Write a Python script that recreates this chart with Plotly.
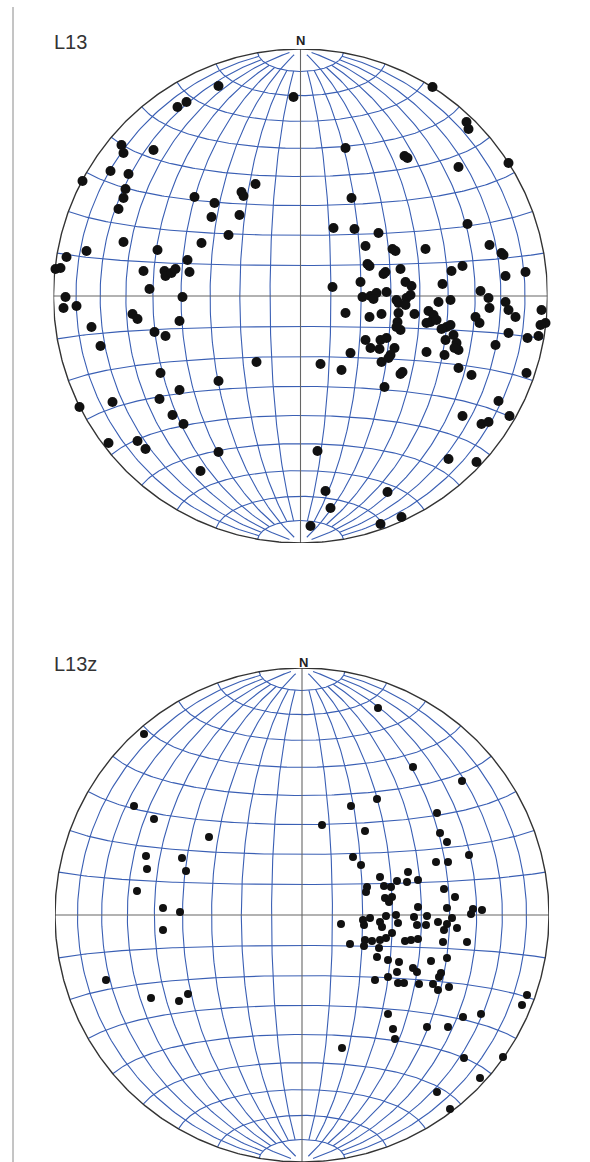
import numpy as np
import plotly.graph_objects as go

# ---- data: lineation poles, east / north offsets in net units (net radius = 247) ----
NET_R = 247.0

top_e = [-82, -114, -123, -7, -179, -177, -147, -218, -190, -172, -175, -177, -182, -106, -45, -59, -57,
         -86, -89, -61, -72, -99, -177, -214, -143, -234, -245, -240, -113, -157, -136, -135, -129, -125,
         -111, -151, -235, -118,
         -237, -224, -168, -163, -209, -121, -146, -135, -200, -44, -140, -82, -121, -141, -188, -221,
         -128, -117, -192, -163, -155, -82, -100,
         132, 166, 168, 45, 104, 107, 158, 208, 51, 33, 54, 78, 167, 65, 92, 95, 125, 189, 201, 203,
         69, 67, 85, 83, 100, 162, 151, 225, 205, 32, 60, 105, 111, 142, 180, 62, 70, 76, 86, 96, 106,
         110, 138, 150, 188,
         73, 98, 105, 128, 133, 130, 126, 136, 114, 98, 97, 100, 96, 45, 69, 81, 189, 205, 208, 215,
         175, 179, 241, 245, 240, 146, 150, 141, 145, 153, 156, 158, 154, 208, 227, 238, 195, 65, 70,
         79, 80, 86, 94, 90, 81, 88, 50, 126, 144, 20, 41, 102, 100, 158, 171, 226, 84, 198, 162, 209,
         181, 188, 17, 148, 176, 25, 87, 30, 101, 80, 10]
top_n = [210, 194, 189, 199, 151, 143, 146, 115, 125, 122, 107, 98, 87, 99, 112, 104, 100,
         93, 79, 81, 61, 53, 54, 45, 46, 39, 27, 28, 36, 25, 25, 20, 23, 27,
         24, 7, -1, -1,
         -12, -10, -18, -23, -31, -25, -36, -40, -50, -66, -77, -85, -94, -103, -106, -111,
         -119, -128, -147, -145, -153, -156, -175,
         209, 174, 167, 148, 140, 138, 129, 133, 98, 68, 67, 63, 72, 50, 47, 45, 47, 51, 43, 41,
         30, 32, 24, 22, 27, 30, 25, 24, 20, 9, 14, 14, 10, 12, 5, -1, 0, 3, 4, -4, -2,
         1, -6, -4, -2,
         -3, -7, -9, -15, -19, -26, -27, -24, -18, -17, -26, -34, -31, -17, -21, -18, -12, -6, -14, -21,
         -21, -27, -14, -27, -29, -31, -29, -33, -44, -39, -47, -54, -52, -37, -42, -40, -49, -44, -52,
         -53, -44, -42, -52, -59, -66, -62, -57, -56, -59, -68, -74, -76, -78, -72, -79, -77, -91, -105, -120, -120,
         -128, -126, -155, -163, -166, -195, -196, -212, -221, -228, -230]

bot_e = [-158, -168, -148, -93, -156, -155, -120, -116, -165, -139, -122, -139, -196, -151, -123, -114,
         76, 111, 160, 75, 49, 20, 135, 63, 138, 145, 167, 51, 59, 134, 146, 106, 78, 95, 105, 116,
         82, 89, 65, 64, 142, 83, 90, 87, 153, 116, 145, 171, 180, 169, 84, 94, 112, 125, 61, 68, 78,
         39, 150,
         62, 80, 96, 115, 124, 136, 142, 145, 155, 90, 48, 63, 70, 78, 84, 62, 77, 103, 109, 116, 141,
         165, 75, 86, 97, 129, 145, 111, 115, 95, 139, 137, 73, 86, 96, 102, 117, 131, 136, 147, 225,
         220, 86, 161, 179, 125, 146, 91, 93, 40, 162, 201, 178, 135, 148]
bot_n = [181, 109, 96, 78, 59, 46, 57, 44, 24, 7, 3, -15, -65, -83, -86, -79,
         207, 148, 134, 116, 109, 90, 102, 84, 82, 73, 60, 58, 50, 53, 53, 43, 38, 34, 33, 35,
         29, 28, 28, 23, 26, 17, 18, 13, 18, 8, 7, 6, 5, 1, -1, 0, -2, -1, -5, -3, -7,
         -9, -3,
         -10, -12, -8, -10, -10, -7, -15, -9, -13, -18, -29, -25, -26, -25, -23, -31, -33, -26, -25, -24, -27,
         -27, -42, -45, -47, -46, -43, -53, -57, -57, -58, -62, -65, -62, -68, -68, -69, -69, -75, -72, -80,
         -90, -99, -102, -99, -112, -112, -114, -124, -133, -143, -142, -163, -177, -194]

panel_labels = ["L13", "L13z"]
north_label = "N"
grid_step = 10  # degrees

# ---- net geometry (Schmidt / equal-area, equatorial aspect) ----
def proj(lat, lon):
    lat = np.radians(lat)
    lon = np.radians(lon)
    c = np.cos(lat)
    k = 1.0 / np.sqrt(1.0 + c * np.cos(lon))
    return k * c * np.sin(lon), k * np.sin(lat)


def net_lines():
    gx, gy = [], []
    # meridians
    for lon in range(-90 + grid_step, 90, grid_step):
        if lon == 0:
            continue
        lat = np.linspace(-80, 80, 161)
        x, y = proj(lat, np.full_like(lat, lon))
        gx += list(x) + [None]
        gy += list(y) + [None]
    for lon in (-60, -30, 30, 60):
        for a, b in ((80, 87), (-87, -80)):
            lat = np.linspace(a, b, 15)
            x, y = proj(lat, np.full_like(lat, lon))
            gx += list(x) + [None]
            gy += list(y) + [None]
    # small circles (latitude)
    for lat in range(-90 + grid_step, 90, grid_step):
        if lat == 0:
            continue
        lon = np.linspace(-90, 90, 181)
        x, y = proj(np.full_like(lon, lat), lon)
        gx += list(x) + [None]
        gy += list(y) + [None]
    return gx, gy


fig = go.Figure()
BLUE = "#3a5fb4"
panels = [
    dict(e=top_e, n=top_n, xa="x", ya="y", size=10,
         xdom=[53.5 / 590, 547.5 / 590], ydom=[1 - 543 / 1162, 1 - 49 / 1162]),
    dict(e=bot_e, n=bot_n, xa="x2", ya="y2", size=8,
         xdom=[55 / 590, 549 / 590], ydom=[0.0, 1 - 668 / 1162]),
]

gx, gy = net_lines()
t = np.linspace(0, 2 * np.pi, 721)
for p in panels:
    fig.add_trace(go.Scatter(x=gx, y=gy, mode="lines", line=dict(color=BLUE, width=1.1),
                             xaxis=p["xa"], yaxis=p["ya"], hoverinfo="skip", cliponaxis=False))
    fig.add_trace(go.Scatter(x=[-1, 1, None, 0, 0], y=[0, 0, None, -1, 1], mode="lines",
                             line=dict(color="#666666", width=1.1),
                             xaxis=p["xa"], yaxis=p["ya"], hoverinfo="skip", cliponaxis=False))
    fig.add_trace(go.Scatter(x=np.cos(t), y=np.sin(t), mode="lines",
                             line=dict(color="#333333", width=1.4),
                             xaxis=p["xa"], yaxis=p["ya"], hoverinfo="skip", cliponaxis=False))
    fig.add_trace(go.Scatter(x=np.array(p["e"]) / NET_R, y=np.array(p["n"]) / NET_R, mode="markers",
                             marker=dict(color="#111111", size=p["size"], line=dict(width=0)),
                             xaxis=p["xa"], yaxis=p["ya"], cliponaxis=False))

axis_common = dict(range=[-1, 1], visible=False, showgrid=False, zeroline=False, fixedrange=True)
fig.update_layout(
    width=590, height=1162, margin=dict(l=0, r=0, t=0, b=0),
    paper_bgcolor="white", plot_bgcolor="rgba(0,0,0,0)", showlegend=False,
    xaxis=dict(domain=panels[0]["xdom"], anchor="y", **axis_common),
    yaxis=dict(domain=panels[0]["ydom"], anchor="x", **axis_common),
    xaxis2=dict(domain=panels[1]["xdom"], anchor="y2", **axis_common),
    yaxis2=dict(domain=panels[1]["ydom"], anchor="x2", **axis_common),
    font=dict(family="Liberation Sans, Arial, sans-serif"),
)

# left frame line
fig.add_shape(type="line", xref="paper", yref="paper", x0=13 / 590, x1=13 / 590,
              y0=0, y1=1 - 7 / 1162, line=dict(color="#8a8a8a", width=1))

for lbl, py in zip(panel_labels, [42, 664]):
    fig.add_annotation(text=lbl, xref="paper", yref="paper", x=52 / 590, y=1 - py / 1162,
                       xanchor="left", yanchor="middle", showarrow=False,
                       font=dict(size=20, color="#333333"))
for px, py in [(301, 40), (303, 662)]:
    fig.add_annotation(text="<b>" + north_label + "</b>", xref="paper", yref="paper",
                       x=px / 590, y=1 - py / 1162, xanchor="center", yanchor="middle",
                       showarrow=False, font=dict(size=13, color="#222222"))

fig.write_html("out.html", config={"displayModeBar": False},
               post_script="document.body.style.margin='0px';document.body.style.overflow='hidden';")
